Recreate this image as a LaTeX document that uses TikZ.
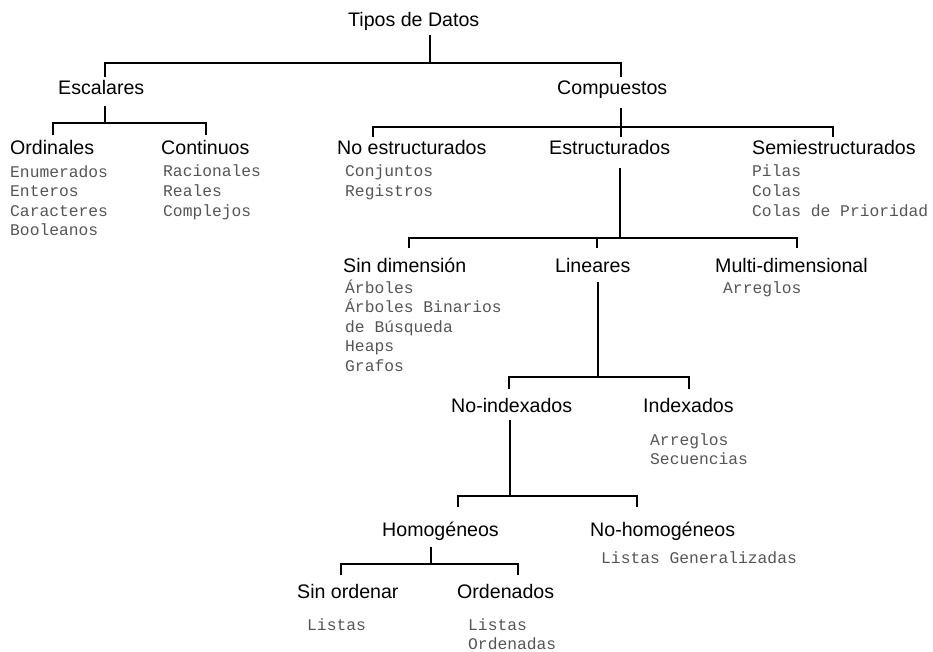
\documentclass[tikz,border=0pt]{standalone}
\usepackage{fontspec}
\setmainfont{Liberation Sans}
\newfontfamily\monofont{Liberation Mono}
\definecolor{itemgray}{HTML}{555555}
\begin{document}
\begin{tikzpicture}[x=1pt,y=-1pt,
  head/.style={anchor=base west, inner sep=0pt, font=\fontsize{19.6}{23}\selectfont},
  item/.style={anchor=base west, inner sep=0pt, align=left, text=itemgray,
    font=\monofont\fontsize{16.3}{19.6}\selectfont},
  bracket/.style={line width=2pt, black}]
\useasboundingbox (0,0) rectangle (933,652);

% headings
\node[head] (tipos) at (348,27) {Tipos de Datos};
\node[head] (esc) at (58,95) {Escalares};
\node[head] (comp) at (557,95) {Compuestos};
\node[head] (ord) at (10,155) {Ordinales};
\node[head] (cont) at (161,155) {Continuos};
\node[head] (noest) at (337,155) {No estructurados};
\node[head] (est) at (549,155) {Estructurados};
\node[head] (semi) at (752,155) {Semiestructurados};
\node[head] (sindim) at (343,272) {Sin dimensión};
\node[head] (lin) at (555,272) {Lineares};
\node[head] (multi) at (715,272) {Multi-dimensional};
\node[head] (noidx) at (451,412) {No-indexados};
\node[head] (idx) at (643,412) {Indexados};
\node[head] (homo) at (382,536) {Homogéneos};
\node[head] (nohomo) at (590,536) {No-homogéneos};
\node[head] (sinord) at (297,598) {Sin ordenar};
\node[head] (ordn) at (457,598) {Ordenados};

% item lists (base anchor = baseline of the last line)
\node[item] (ordL) at (10,235.8) {Enumerados\\Enteros\\Caracteres\\Booleanos};
\node[item] (contL) at (163,216.2) {Racionales\\Reales\\Complejos};
\node[item] (noestL) at (345,196.6) {Conjuntos\\Registros};
\node[item] (semiL) at (752,216.2) {Pilas\\Colas\\Colas de Prioridad};
\node[item] (sindimL) at (345,371.4) {Árboles\\Árboles Binarios\\de Búsqueda\\Heaps\\Grafos};
\node[item] (multiL) at (723,293) {Arreglos};
\node[item] (idxL) at (650,464.6) {Arreglos\\Secuencias};
\node[item] (nohomoL) at (601,563) {Listas Generalizadas};
\node[item] (sinordL) at (307,630) {Listas};
\node[item] (ordnL) at (468,649.6) {Listas\\Ordenadas};

% connector end points
\coordinate (tiposOut) at (430,35);
\coordinate (tiposBus) at (430,63);
\coordinate (escIn) at (105,77);
\coordinate (compIn) at (621,77);

\coordinate (escOut) at (105,106);
\coordinate (escBus) at (105,123);
\coordinate (ordIn) at (53,135);
\coordinate (contIn) at (206,135);

\coordinate (compOut) at (621,108);
\coordinate (compBus) at (621,127);
\coordinate (noestIn) at (373,137);
\coordinate (estIn) at (621,137);
\coordinate (semiIn) at (833,137);

\coordinate (estOut) at (620,168);
\coordinate (estBus) at (620,238);
\coordinate (sindimIn) at (409,248);
\coordinate (linIn) at (597,248);
\coordinate (multiIn) at (797,248);

\coordinate (linOut) at (598,282);
\coordinate (linBus) at (598,377);
\coordinate (noidxIn) at (509,389);
\coordinate (idxIn) at (689,389);

\coordinate (noidxOut) at (510,420);
\coordinate (noidxBus) at (510,496);
\coordinate (homoIn) at (458,507);
\coordinate (nohomoIn) at (637,507);

\coordinate (homoOut) at (431,547);
\coordinate (homoBus) at (431,564);
\coordinate (sinordIn) at (341,575);
\coordinate (ordnIn) at (518,575);

% connectors
\draw[bracket] (tiposOut) -- (tiposBus);
\draw[bracket] (escIn) |- (tiposBus) -| (compIn);

\draw[bracket] (escOut) -- (escBus);
\draw[bracket] (ordIn) |- (escBus) -| (contIn);

\draw[bracket] (compOut) -- (estIn);
\draw[bracket] (noestIn) |- (compBus) -| (semiIn);

\draw[bracket] (estOut) -- (estBus);
\draw[bracket] (sindimIn) |- (estBus) -| (multiIn);
\draw[bracket] (linIn) -- (linIn |- estBus);

\draw[bracket] (linOut) -- (linBus);
\draw[bracket] (noidxIn) |- (linBus) -| (idxIn);

\draw[bracket] (noidxOut) -- (noidxBus);
\draw[bracket] (homoIn) |- (noidxBus) -| (nohomoIn);

\draw[bracket] (homoOut) -- (homoBus);
\draw[bracket] (sinordIn) |- (homoBus) -| (ordnIn);
\end{tikzpicture}
\end{document}
